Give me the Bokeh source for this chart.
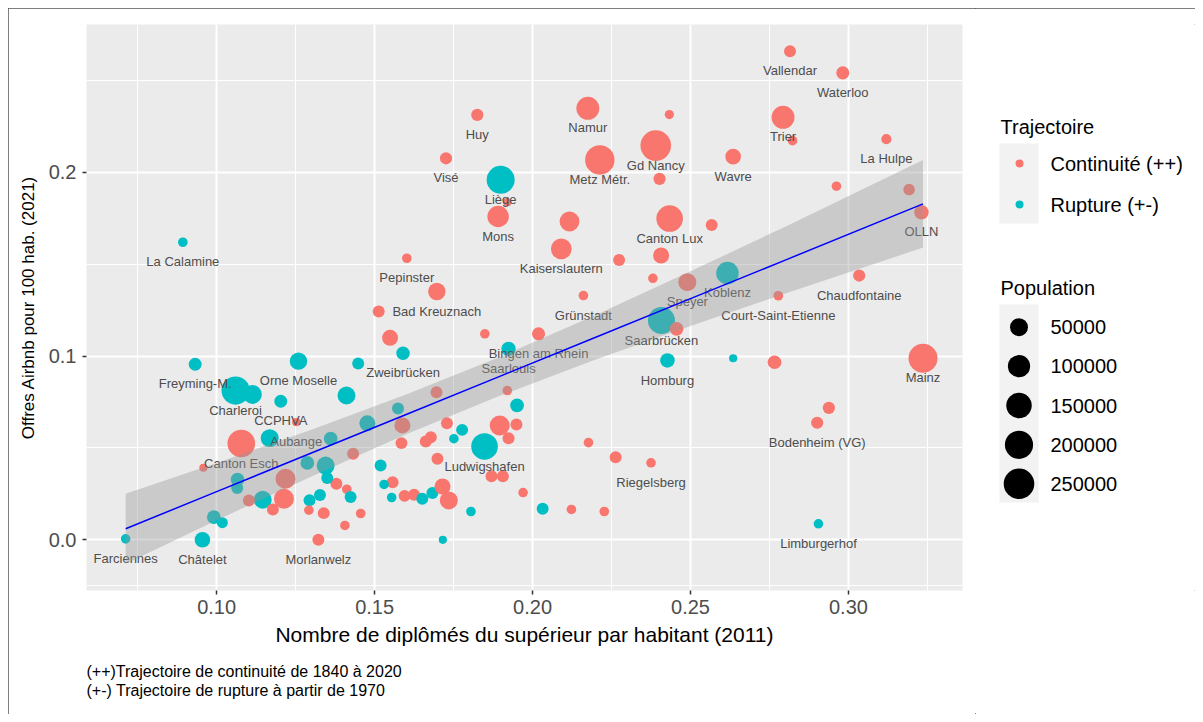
import numpy as np
from bokeh.plotting import figure
from bokeh.models import ColumnDataSource, Range1d, FixedTicker, Title, PrintfTickFormatter
from bokeh.layouts import row
from bokeh.embed import file_html
from bokeh.resources import INLINE
from bokeh.core.properties import value

# ---------------- data ----------------
names = ["Vallendar", "Waterloo", "Trier", "", "La Hulpe", "Wavre", "", "", "OLLN", "Huy",
         "Namur", "", "Gd Nancy", "Visé", "Metz Métr.", "Liège", "", "", "Mons", "",
         "Canton Lux", "", "Kaiserslautern", "", "", "Pepinster", "Bad Kreuznach", "", "", "Grünstadt",
         "", "", "Bingen am Rhein", "Zweibrücken", "Saarlouis", "Saarbrücken", "", "Homburg", "Speyer", "Koblenz",
         "Court-Saint-Etienne", "Chaudfontaine", "", "", "Mainz", "", "Bodenheim (VG)", "Limburgerhof", "", "",
         "Riegelsberg", "", "", "", "", "", "Ludwigshafen", "", "", "",
         "", "", "", "", "", "", "", "", "", "",
         "", "", "", "", "", "", "", "", "", "",
         "", "", "", "Freyming-M.", "Orne Moselle", "", "Charleroi", "", "CCPHVA", "",
         "La Calamine", "Aubange", "Canton Esch", "", "", "", "", "", "", "",
         "", "", "", "", "", "", "", "", "", "",
         "", "", "", "", "", "", "", "", "", "",
         "", "Châtelet", "Farciennes", "Morlanwelz"]

x_dipl = [0.2815, 0.2982, 0.2793, 0.2823, 0.3120, 0.2635, 0.2962, 0.3192, 0.3231, 0.1825,
          0.2175, 0.2433, 0.2390, 0.1726, 0.2213, 0.1899, 0.1920, 0.2402, 0.1891, 0.2117,
          0.2434, 0.2567, 0.2091, 0.2274, 0.2407, 0.1602, 0.1697, 0.1513, 0.2381, 0.2161,
          0.1549, 0.1849, 0.2019, 0.1590, 0.1924, 0.2408, 0.2456, 0.2427, 0.2490, 0.2617,
          0.2778, 0.3034, 0.2635, 0.2766, 0.3236, 0.2938, 0.2901, 0.2905, 0.2177, 0.2263,
          0.2375, 0.1970, 0.2032, 0.2123, 0.2227, 0.1716, 0.1848, 0.1896, 0.1949, 0.1924,
          0.1951, 0.1729, 0.1777, 0.1751, 0.1585, 0.1662, 0.1678, 0.1699, 0.1870, 0.1906,
          0.1519, 0.1557, 0.1530, 0.1554, 0.1595, 0.1625, 0.1651, 0.1683, 0.1715, 0.1735,
          0.1805, 0.1588, 0.1574, 0.0932, 0.1259, 0.1448, 0.1060, 0.1113, 0.1203, 0.1411,
          0.0893, 0.1252, 0.1078, 0.1168, 0.1361, 0.1432, 0.1477, 0.1696, 0.1920, 0.1379,
          0.1412, 0.1424, 0.1327, 0.1294, 0.1339, 0.1292, 0.1406, 0.1456, 0.1287, 0.1345,
          0.1350, 0.1218, 0.1213, 0.1146, 0.1102, 0.1178, 0.1066, 0.1065, 0.0991, 0.1018,
          0.0958, 0.0955, 0.0712, 0.1322]

y_airbnb = [0.2658, 0.2541, 0.2299, 0.2172, 0.2180, 0.2085, 0.1924, 0.1906, 0.1782, 0.2312,
            0.2348, 0.2314, 0.2145, 0.2076, 0.2067, 0.1959, 0.1837, 0.1964, 0.1759, 0.1732,
            0.1748, 0.1713, 0.1583, 0.1523, 0.1547, 0.1532, 0.1351, 0.1242, 0.1423, 0.1329,
            0.1099, 0.1121, 0.1121, 0.1015, 0.1039, 0.1193, 0.1148, 0.0976, 0.1402, 0.1451,
            0.1328, 0.1438, 0.0988, 0.0966, 0.0988, 0.0718, 0.0637, 0.0087, 0.0529, 0.0449,
            0.0419, 0.0257, 0.0169, 0.0165, 0.0154, 0.0000, 0.0508, 0.0622, 0.0627, 0.0553,
            0.0731, 0.0634, 0.0598, 0.0550, 0.0526, 0.0535, 0.0558, 0.0441, 0.0346, 0.0346,
            0.0404, 0.0313, 0.0301, 0.0230, 0.0239, 0.0245, 0.0223, 0.0254, 0.0290, 0.0214,
            0.0154, 0.0622, 0.0714, 0.0955, 0.0972, 0.0959, 0.0812, 0.0791, 0.0754, 0.0785,
            0.1619, 0.0640, 0.0524, 0.0553, 0.0550, 0.0468, 0.0634, 0.0803, 0.0812, 0.0305,
            0.0275, 0.0233, 0.0244, 0.0215, 0.0145, 0.0161, 0.0078, 0.0143, 0.0418, 0.0404,
            0.0336, 0.0332, 0.0223, 0.0218, 0.0214, 0.0165, 0.0328, 0.0282, 0.0123, 0.0093,
            0.0392, 0.0000, 0.0005, 0.0000]

population = [10000, 15000, 110000, 4000, 5000, 30000, 4000, 9000, 22000, 11000,
              110000, 3500, 250000, 11000, 225000, 197000, 3000, 11000, 90000, 70000,
              170000, 10000, 80000, 10000, 33000, 4000, 45000, 10000, 4000, 4000,
              33000, 4000, 15000, 17000, 22000, 180000, 18000, 23000, 50000, 105000,
              4000, 11000, 3000, 18000, 217000, 11000, 11000, 4000, 4000, 10000,
              4000, 4000, 10000, 4000, 4000, 3000, 170000, 72000, 10000, 10000,
              18000, 10000, 10000, 4000, 10000, 10000, 10000, 10000, 10000, 10000,
              10000, 10000, 4000, 4000, 10000, 10000, 10000, 10000, 33000, 50000,
              4000, 33000, 10000, 14000, 45000, 10000, 201000, 60000, 14000, 50000,
              4000, 3000, 190000, 50000, 18000, 10000, 33000, 10000, 4000, 10000,
              4000, 10000, 10000, 10000, 10000, 4000, 4000, 4000, 18000, 50000,
              10000, 72000, 72000, 50000, 10000, 10000, 18000, 10000, 18000, 7000,
              3000, 30000, 4000, 10000]

trajectoire = ["C", "C", "C", "C", "C", "C", "C", "C", "C", "C",
               "C", "C", "C", "C", "C", "R", "C", "C", "C", "C",
               "C", "C", "C", "C", "C", "C", "C", "C", "C", "C",
               "C", "C", "C", "R", "R", "R", "C", "R", "C", "R",
               "C", "C", "R", "C", "C", "C", "C", "R", "C", "C",
               "C", "C", "R", "C", "C", "R", "R", "C", "C", "C",
               "R", "C", "R", "R", "C", "C", "C", "C", "C", "C",
               "R", "C", "R", "R", "C", "C", "R", "R", "C", "C",
               "R", "C", "R", "R", "R", "R", "R", "R", "R", "R",
               "R", "C", "C", "R", "R", "C", "R", "C", "C", "C",
               "C", "R", "R", "R", "C", "C", "C", "C", "R", "R",
               "R", "C", "C", "R", "C", "C", "R", "R", "R", "R",
               "C", "R", "R", "C"]

traj_labels = {"C": "Continuité (++)", "R": "Rupture (+-)"}
traj_colors = {"C": "#F8766D", "R": "#00BFC4"}

# linear fit (geom_smooth, method = lm)
fit_x = [0.0712, 0.10, 0.13, 0.16, 0.19, 0.22, 0.25, 0.28, 0.3236]
fit_y = [0.0060, 0.0262, 0.0472, 0.0682, 0.0892, 0.1102, 0.1312, 0.1522, 0.1828]
fit_lo = [-0.0130, 0.0106, 0.0345, 0.0574, 0.0786, 0.0981, 0.1163, 0.1340, 0.1590]
fit_hi = [0.0250, 0.0418, 0.0599, 0.0790, 0.0998, 0.1223, 0.1461, 0.1704, 0.2066]

x_ticks = [0.10, 0.15, 0.20, 0.25, 0.30]
x_minor = [0.075, 0.125, 0.175, 0.225, 0.275, 0.325]
y_ticks = [0.0, 0.1, 0.2]
y_minor = [-0.025, 0.05, 0.15, 0.25]

legend_pop_values = [50000, 100000, 150000, 200000, 250000]
legend_pop_labels = ["50000", "100000", "150000", "200000", "250000"]

x_title = "Nombre de diplômés du supérieur par habitant (2011)"
y_title = "Offres Airbnb pour 100 hab. (2021)"
caption = "(++)Trajectoire de continuité de 1840 à 2020\n(+-) Trajectoire de rupture à partir de 1970"

FONT = "Liberation Sans"


def pop_to_px(p):
    p = np.asarray(p, dtype=float)
    return 8.2 + 0.045 * np.sqrt(np.maximum(p - 3000.0, 0.0))


# ---------------- main panel ----------------
p = figure(frame_width=876, frame_height=566,
           x_range=Range1d(0.0588, 0.3361), y_range=Range1d(-0.0276, 0.2804),
           toolbar_location=None, output_backend="svg",
           min_border_left=78, min_border_top=16, min_border_right=13, min_border_bottom=124)
p.background_fill_color = "#EBEBEB"
p.border_fill_color = "white"
p.outline_line_color = None

xt = FixedTicker(ticks=x_ticks, minor_ticks=x_minor)
yt = FixedTicker(ticks=y_ticks, minor_ticks=y_minor)
p.xaxis.ticker = xt
p.yaxis.ticker = yt
p.xgrid.ticker = xt
p.ygrid.ticker = yt
p.xaxis.formatter = PrintfTickFormatter(format="%.2f")
p.yaxis.formatter = PrintfTickFormatter(format="%.1f")

for g in (p.xgrid, p.ygrid):
    g.grid_line_color = "white"
    g.grid_line_width = 2
    g.minor_grid_line_color = "white"
    g.minor_grid_line_width = 1

p.axis.axis_line_color = None
p.axis.major_tick_line_color = "#333333"
p.axis.major_tick_line_width = 1.5
p.axis.major_tick_out = 4
p.axis.major_tick_in = 0
p.axis.minor_tick_line_color = None
p.axis.major_label_text_color = "#4D4D4D"
p.axis.major_label_text_font = FONT
p.axis.major_label_text_font_size = "20px"
p.xaxis.major_label_standoff = 5
p.yaxis.major_label_standoff = 6

p.xaxis.axis_label = x_title
p.yaxis.axis_label = y_title
p.axis.axis_label_text_font = FONT
p.axis.axis_label_text_font_style = "normal"
p.axis.axis_label_text_color = "black"
p.xaxis.axis_label_text_font_size = "21px"
p.yaxis.axis_label_text_font_size = "17px"
p.xaxis.axis_label_standoff = 6
p.yaxis.axis_label_standoff = 8

cap = Title(text=caption, align="left", text_font=FONT, text_font_size="16px",
            text_font_style="normal", text_color="black", text_line_height=1.15,
            standoff=24, offset=0)
p.add_layout(cap, "below")

src = ColumnDataSource(dict(
    x=x_dipl, y=y_airbnb, name=names, pop=population,
    traj=[traj_labels[t] for t in trajectoire],
    color=[traj_colors[t] for t in trajectoire],
    size=pop_to_px(population),
))
p.scatter("x", "y", source=src, size="size", fill_color="color", line_color=None)

lab_idx = [i for i, n in enumerate(names) if n]
lab_src = ColumnDataSource(dict(
    x=[x_dipl[i] for i in lab_idx],
    y=[y_airbnb[i] - 0.0107 for i in lab_idx],
    text=[names[i] for i in lab_idx],
))
p.text("x", "y", text="text", source=lab_src, text_align="center", text_baseline="middle",
       text_font=value(FONT), text_font_size="13px", text_color="#4D4D4D")

p.varea(x=fit_x, y1=fit_lo, y2=fit_hi, fill_color="#999999", fill_alpha=0.4)
p.line(fit_x, fit_y, line_color="#0000FF", line_width=1.5)

# ---------------- legend panel (frame aligned with the main panel frame) ----------------
leg = figure(title=None, frame_width=220, frame_height=566,
             x_range=Range1d(0, 220), y_range=Range1d(566, 0),
             toolbar_location=None, output_backend="svg",
             min_border_left=0, min_border_right=0, min_border_top=16, min_border_bottom=124,
             x_axis_location=None, y_axis_location=None)
leg.grid.visible = False
leg.outline_line_color = None
leg.background_fill_color = "white"
leg.border_fill_color = "white"

# Trajectoire
leg.text([25], [102], text=["Trajectoire"], text_baseline="middle", text_align="left",
         text_font=value(FONT), text_font_size="20px", text_color="black")
leg.rect([43.5], [159], width=39, height=80, fill_color="#F2F2F2", line_color=None)
leg.scatter([44, 44], [139, 180], size=8, fill_color=[traj_colors["C"], traj_colors["R"]], line_color=None)
leg.text([75, 75], [139, 180], text=[traj_labels["C"], traj_labels["R"]], text_baseline="middle",
         text_align="left", text_font=value(FONT), text_font_size="20px", text_color="black")

# Population
leg.text([25], [263], text=["Population"], text_baseline="middle", text_align="left",
         text_font=value(FONT), text_font_size="20px", text_color="black")
leg.rect([43.5], [379], width=39, height=198, fill_color="#F2F2F2", line_color=None)
ys = [302.7, 341.7, 381.0, 420.3, 459.3]
leg.scatter([43.5] * 5, ys, size=pop_to_px(legend_pop_values), fill_color="black", line_color=None)
leg.text([75] * 5, ys, text=legend_pop_labels, text_baseline="middle", text_align="left",
         text_font=value(FONT), text_font_size="20px", text_color="black")

layout = row(p, leg, spacing=0)
layout.styles = {"outline": "1px solid #555555", "outline-offset": "-1px", "margin": "8px"}

open("out.html", "w").write(file_html(layout, INLINE))
